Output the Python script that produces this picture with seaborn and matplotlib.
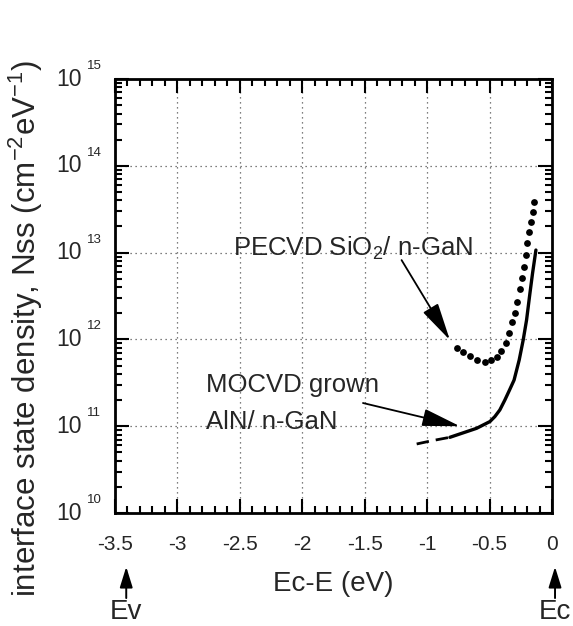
import numpy as np
import pandas as pd
import seaborn as sns
import matplotlib.pyplot as plt
from matplotlib.ticker import MultipleLocator, LogLocator, FixedLocator, NullFormatter
from matplotlib.transforms import offset_copy

# PECVD SiO2 / n-GaN (dots)
pecvd_x = [-0.759, -0.711, -0.658, -0.599, -0.535, -0.490, -0.444, -0.407, -0.370, -0.348, -0.322,
           -0.300, -0.281, -0.257, -0.239, -0.225, -0.212, -0.201, -0.188, -0.172, -0.156, -0.145]
pecvd_n = [8.02e11, 7.10e11, 6.46e11, 5.79e11, 5.53e11, 5.79e11, 6.32e11, 7.41e11, 9.02e11, 1.175e12, 1.57e12,
           2.03e12, 2.72e12, 3.78e12, 5.06e12, 6.78e12, 9.38e12, 1.28e13, 1.73e13, 2.27e13, 2.96e13, 3.85e13]

# MOCVD AlN / n-GaN, dashed part and solid part
aln_dash_x = [-1.084, -0.964, -0.818]
aln_dash_n = [6.24e10, 6.8e10, 7.45e10]
aln_x = [-0.818, -0.684, -0.604, -0.498, -0.458, -0.418, -0.378, -0.341, -0.304, -0.263,
         -0.231, -0.204, -0.177, -0.156, -0.129]
aln_n = [7.45e10, 8.65e10, 9.46e10, 1.13e11, 1.29e11, 1.54e11, 2.0e11, 2.6e11, 3.4e11, 5.79e11,
         9.84e11, 1.67e12, 3.40e12, 5.78e12, 1.07e13]

x_ticks = [-3.5, -3, -2.5, -2, -1.5, -1, -0.5, 0]
x_tick_labels = ['-3.5', '-3', '-2.5', '-2', '-1.5', '-1', '-0.5', '0']
y_ticks = [1e10, 1e11, 1e12, 1e13, 1e14, 1e15]
y_exps = ['10', '11', '12', '13', '14', '15']

sns.set_theme(style='ticks')
plt.rcParams['font.family'] = ['Liberation Sans', 'DejaVu Sans']
plt.rcParams['mathtext.fontset'] = 'custom'
plt.rcParams['mathtext.rm'] = 'Liberation Sans'
plt.rcParams['axes.unicode_minus'] = False

fig = plt.figure(figsize=(5.73, 6.26), dpi=100)
ax = fig.add_axes([0.2007, 0.1805, 0.7627, 0.6933])

df_p = pd.DataFrame({'x': pecvd_x, 'n': pecvd_n})
df_d = pd.DataFrame({'x': aln_dash_x, 'n': aln_dash_n})
df_s = pd.DataFrame({'x': aln_x, 'n': aln_n})

sns.scatterplot(data=df_p, x='x', y='n', ax=ax, color='black', s=24, linewidth=0, zorder=3)
sns.lineplot(data=df_d, x='x', y='n', ax=ax, color='black', lw=2.0, sort=False, estimator=None)
sns.lineplot(data=df_s, x='x', y='n', ax=ax, color='black', lw=2.4, sort=False, estimator=None)
ax.lines[0].set_dashes([4.5, 2.5])
ax.lines[1].set_solid_joinstyle('round')

ax.set_yscale('log')
ax.set_xlim(-3.5, 0)
ax.set_ylim(1e10, 1e15)

ax.xaxis.set_major_locator(FixedLocator(x_ticks))
ax.set_xticklabels(x_tick_labels)
ax.xaxis.set_minor_locator(MultipleLocator(0.1))
ax.yaxis.set_major_locator(FixedLocator(y_ticks))
ax.yaxis.set_minor_locator(LogLocator(base=10, subs=np.arange(2, 10)))
ax.yaxis.set_minor_formatter(NullFormatter())
ax.yaxis.set_major_formatter(NullFormatter())

ax.tick_params(which='both', direction='in', top=True, right=True, width=1.5, color='black')
ax.tick_params(which='major', length=10)
ax.tick_params(which='minor', length=5)
ax.tick_params(axis='x', labelsize=15, pad=16)
for s in ax.spines.values():
    s.set_linewidth(2)
    s.set_color('black')

# y tick labels: "10" with small raised exponent
ytr = ax.get_yaxis_transform()
for yv, ex in zip(y_ticks, y_exps):
    ax.text(0, yv, '10', transform=offset_copy(ytr, fig, x=-33, y=0, units='dots'),
            fontsize=16.5, ha='right', va='center', clip_on=False)
    ax.text(0, yv, ex, transform=offset_copy(ytr, fig, x=-28, y=13, units='dots'),
            fontsize=9.5, ha='left', va='center', clip_on=False)

ax.grid(True, which='major', linestyle=(0, (1, 3)), color='#555555', lw=0.9)

ax.set_xlabel('Ec-E (eV)', fontsize=20, labelpad=12)
ax.set_ylabel(r'interface state density, Nss (cm$^{-2}$eV$^{-1}$)', fontsize=22.5)
ax.yaxis.set_label_coords(-0.16, 0.424)
ax.set_facecolor('white')

arrow_big = dict(arrowstyle='-|>,head_length=1.3,head_width=0.3', mutation_scale=18,
                 color='black', lw=1.3, shrinkA=0, shrinkB=0)
ax.annotate('', xy=(-0.818, 9.84e11), xytext=(-1.205, 8.2e12), arrowprops=arrow_big)
ax.annotate('', xy=(-0.738, 1.0e11), xytext=(-1.514, 1.85e11), arrowprops=arrow_big)

ax.text(-2.555, 9.38e12, r'PECVD SiO$_2$/ n-GaN', fontsize=18.5, ha='left', va='baseline')
ax.text(-2.771, 2.48e11, 'MOCVD grown', fontsize=18.5, ha='left', va='baseline')
ax.text(-2.771, 9.29e10, 'AlN/ n-GaN', fontsize=18.5, ha='left', va='baseline')

# Ev / Ec markers below the axis
arrow_small = dict(arrowstyle='-|>,head_length=0.9,head_width=0.28', mutation_scale=14,
                   color='black', lw=1.4, shrinkA=0, shrinkB=0)
for xv, lab in [(-3.41, 'Ev'), (0.024, 'Ec')]:
    ax.annotate('', xy=(xv, -0.124), xytext=(xv, -0.196), xycoords=('data', 'axes fraction'),
                textcoords=('data', 'axes fraction'), arrowprops=arrow_small, annotation_clip=False)
    ax.text(xv, -0.228, lab, transform=ax.get_xaxis_transform(), fontsize=20,
            ha='center', va='center', clip_on=False)

fig.savefig('out.png', dpi=100, facecolor='white')
